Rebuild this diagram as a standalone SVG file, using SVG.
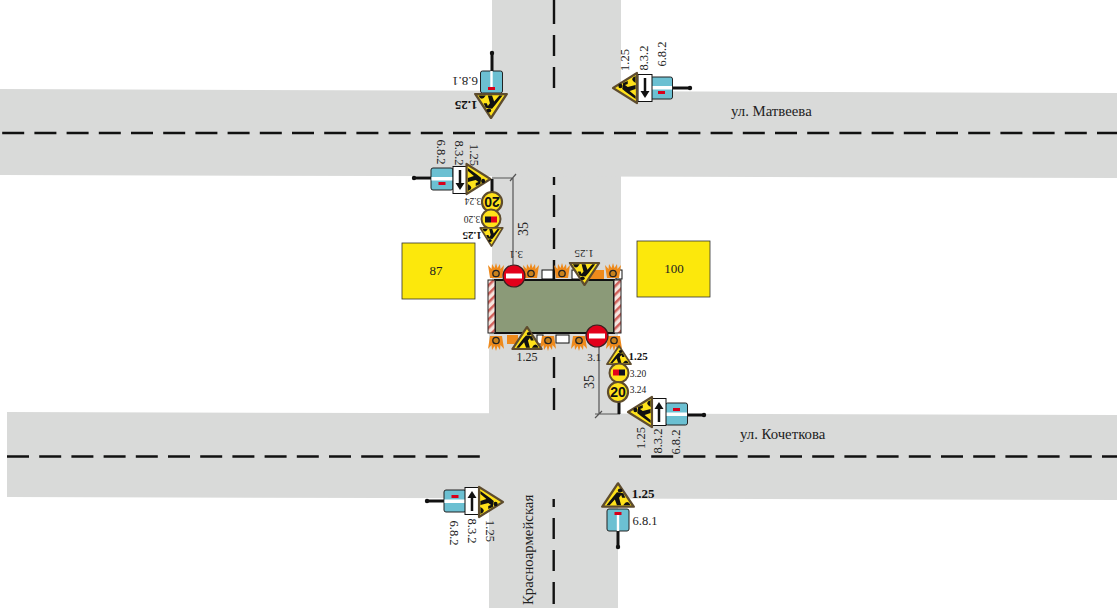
<svg xmlns="http://www.w3.org/2000/svg" width="1117" height="608" viewBox="0 0 1117 608">
<style>
text{font-family:"Liberation Serif","Times New Roman",serif;fill:#222}
.t{font-size:12.500px;text-anchor:middle}
.b{font-size:13px;font-weight:bold;text-anchor:middle;fill:#111}
.s{font-size:9.500px;text-anchor:middle}
.n{font-size:14.800px}
.road{fill:#d9dad9}
.dash{stroke:#111;stroke-width:2.400;fill:none;stroke-dasharray:22 10.200}
.seg{stroke:#111;stroke-width:2.400;fill:none}
.pole{stroke:#111;stroke-width:3;fill:none}
.dim{stroke:#555;stroke-width:1.200;fill:none}
.b2{fill:#6cc0d2;stroke:#222;stroke-width:1}
.w{fill:#fff;stroke:#111;stroke-width:1}
.or{fill:#ee8a1c}
</style>
<defs>
<g id="warn">
<path d="M0-13 L15 13 L-15 13Z" fill="#ffe21a" stroke="#5e4c2e" stroke-width="2.400" stroke-linejoin="round"/>
<circle cx="2" cy="-5" r="2.200" fill="#111"/>
<path d="M-1-3 L5-2 L7 3 L4 3 L3 0 L1 3 L3 11.500 L-1 11.500 L-3 5 L-8 11.500 L-11 11.500 L-4 1Z M5 11.500 Q9 4 12 11.500Z" fill="#111"/>
</g>
<g id="no"><circle r="11" fill="#e2001a" stroke="#3a2020" stroke-width="1.200"/><rect x="-8" y="-2.500" width="16" height="5" fill="#fff"/></g>
<g id="lamp">
<path d="M-8-7 L-4.500-3 L-4-8 L-1.500-4 L0-9 L1.500-4 L4-8 L4.500-3 L8-7 L6 6 L-6 6Z" fill="#ee8a1c"/>
<circle cy="1.500" r="3.200" fill="#c9821c" stroke="#222" stroke-width="1.300"/>
</g>
<g id="c20"><circle r="10" fill="#ffe21a" stroke="#5e4c2e" stroke-width="2.200"/><text y="5" text-anchor="middle" style="font-family:'Liberation Sans',sans-serif;font-size:14px;font-weight:bold;fill:#111">20</text></g>
<g id="c320"><circle r="9.500" fill="#ffe21a" stroke="#5e4c2e" stroke-width="2"/><rect x="-6" y="-3.500" width="6" height="6" fill="#e2001a"/><rect x="0" y="-3.500" width="6" height="6" fill="#112"/></g>
<g id="b682"><rect x="-11" y="-11" width="22" height="22" rx="2" class="b2"/><rect x="-10.500" y="-1.500" width="21" height="3.500" fill="#fff"/><rect x="-3.500" y="-6" width="7" height="3" fill="#d8001a"/></g>
<g id="b681"><rect x="-11" y="-11" width="22" height="22" rx="2" class="b2"/><rect x="-1.200" y="-7" width="2.400" height="18" fill="#fff"/><rect x="-3.500" y="-8" width="7" height="3" fill="#d8001a"/></g>
<g id="arrow"><rect x="-7" y="-13.500" width="14" height="27" class="w"/><path d="M0 10 V-5" stroke="#111" stroke-width="2.500"/><path d="M-4.500-3 L0-10 L4.500-3Z" fill="#111"/></g>
<pattern id="hatch" width="6" height="6" patternUnits="userSpaceOnUse" patternTransform="rotate(45)"><rect width="6" height="6" fill="#f6e6e0"/><rect width="2.500" height="6" fill="#d0605a"/></pattern>
</defs>

<g id="roads">
<rect class="road" x="492" y="0" width="129" height="300"/>
<rect class="road" x="489" y="300" width="129" height="308"/>
<path class="road" d="M0 89 L1117 93 V178 L0 175Z"/>
<path class="road" d="M7 412 L1117 415 V500 L7 497Z"/>
</g>

<g id="connectors">
<path class="dash" d="M-30 133 H1117"/>
<path class="dash" d="M619 456.500 H1117"/>
<path class="dash" d="M7 456.500 H480"/>
<path class="seg" d="M554 0 V24 M554 35 V56 M554 67 V88 M554 177 V185 M554 195 V217 M554 228 V249 M554 260 V279 M554 357 V378 M554 388 V410 M553.700 499 V507 M553.700 518 V539 M553.700 550 V571 M553.700 582 V604"/>
<path class="dim" d="M492 178 H513 M510 181 L516 174 M513 178 V265"/>
<path class="dim" d="M599 346 V414 M595 414 H620 M595 418 L602 411"/>
</g>

<g id="work-zone">
<rect x="495" y="280" width="119" height="53" fill="#8b9a78" stroke="#111" stroke-width="2"/>
<rect x="488" y="280" width="7" height="53" fill="url(#hatch)" stroke="#222" stroke-width="1"/>
<rect x="614" y="280" width="7" height="53" fill="url(#hatch)" stroke="#222" stroke-width="1"/>
<rect x="542" y="270" width="11" height="9" class="w" stroke-width=".6"/>
<rect x="572" y="270" width="18" height="9" class="w"/>
<rect x="590" y="270" width="14" height="9" class="or"/>
<rect x="616" y="270" width="6" height="9" class="w"/>
<rect x="507" y="335" width="11" height="9" class="or"/>
<rect x="537" y="335" width="6" height="9" class="w"/>
<rect x="556" y="335" width="13" height="8" class="w"/>
<use href="#lamp" transform="translate(496 272)"/>
<use href="#lamp" transform="translate(531 272)"/>
<use href="#lamp" transform="translate(562 272)"/>
<use href="#lamp" transform="translate(613 272)"/>
<use href="#lamp" transform="translate(496 342) scale(1 -1)"/>
<use href="#lamp" transform="translate(548 342) scale(1 -1)"/>
<use href="#lamp" transform="translate(579 342) scale(1 -1)"/>
<use href="#lamp" transform="translate(614 342) scale(1 -1)"/>
<use href="#no" x="514" y="276"/>
<use href="#no" x="597" y="336"/>
<use href="#warn" transform="translate(584.500 274) rotate(180) scale(.97 .85)"/>
<use href="#warn" transform="translate(527 338) scale(.97 .85)"/>
<text class="s" transform="translate(516 251) rotate(180)" style="font-size:11px">3.1</text>
<text class="s" transform="translate(584 250) rotate(180)" style="font-size:11px">1.25</text>
<text class="s" x="527" y="361" style="font-size:12px">1.25</text>
<text class="s" x="594" y="361" style="font-size:11px">3.1</text>
</g>

<g id="block-87"><rect x="402" y="243" width="73" height="56" fill="#fce80c" stroke="#333" stroke-width=".8"/><text class="t" x="436" y="275" style="font-size:13px">87</text></g>
<g id="block-100"><rect x="637" y="241" width="73" height="56" fill="#fce80c" stroke="#333" stroke-width=".8"/><text class="t" x="674" y="273" style="font-size:13px">100</text></g>

<g id="sign-top-left">
<path class="pole" d="M492 53 V72"/><circle cx="492" cy="53" r="2.200" fill="#111"/>
<use href="#b681" transform="translate(491.500 82) rotate(180)"/>
<use href="#warn" transform="translate(491 106) rotate(180) scale(1.050 .92)"/>
<text class="t" transform="translate(465 77) rotate(180)" style="font-size:13px">6.8.1</text>
<text class="b" transform="translate(466 101) rotate(180)">1.25</text>
</g>

<g id="sign-top-right">
<path class="pole" d="M672 88 H690"/><circle cx="690" cy="88" r="2.200" fill="#111"/>
<use href="#b682" transform="translate(661.500 88) rotate(180)"/>
<use href="#arrow" transform="translate(645 88) rotate(180)"/>
<use href="#warn" transform="translate(625 88) rotate(-90) scale(1 .92)"/>
<text class="t" transform="translate(629 60) rotate(-90)">1.25</text>
<text class="t" transform="translate(648 58) rotate(-90)">8.3.2</text>
<text class="t" transform="translate(666 54) rotate(-90)">6.8.2</text>
</g>

<g id="sign-left">
<path class="pole" d="M414 178 H431"/><circle cx="414" cy="178" r="2.200" fill="#111"/>
<use href="#b682" transform="translate(442 179) rotate(180)"/>
<use href="#arrow" transform="translate(460 180) rotate(180)"/>
<use href="#warn" transform="translate(478.500 179) rotate(90) scale(1 .92)"/>
<text class="t" transform="translate(437 152) rotate(90)">6.8.2</text>
<text class="t" transform="translate(455 153) rotate(90)">8.3.2</text>
<text class="t" transform="translate(470 155) rotate(90)">1.25</text>
</g>

<g id="stack-upper">
<path class="pole" d="M492 179 V192"/>
<use href="#c20" transform="translate(492 202) rotate(180)"/>
<use href="#c320" transform="translate(491 219) rotate(180)"/>
<use href="#warn" transform="translate(491.500 237) rotate(180) scale(.75 .7)"/>
<text class="s" transform="translate(473 198) rotate(180)">3.24</text>
<text class="s" transform="translate(472 216) rotate(180)">3.20</text>
<text class="b" transform="translate(472 232) rotate(180)" style="font-size:11px">1.25</text>
</g>

<g id="stack-lower">
<path class="pole" d="M619 400 V414"/>
<use href="#warn" transform="translate(619 355) scale(.8 .7)"/>
<use href="#c320" x="619" y="373"/>
<use href="#c20" x="618" y="392"/>
<text class="b" x="638" y="360" style="font-size:11px">1.25</text>
<text class="s" x="638" y="377">3.20</text>
<text class="s" x="638" y="393">3.24</text>
</g>

<g id="sign-lower-right">
<path class="pole" d="M687 415 H704"/><circle cx="704" cy="415" r="2.200" fill="#111"/>
<use href="#b682" x="676.500" y="414"/>
<use href="#arrow" x="659" y="412"/>
<use href="#warn" transform="translate(640 412) rotate(-90) scale(1 .92)"/>
<text class="t" transform="translate(645 438) rotate(-90)">1.25</text>
<text class="t" transform="translate(662 441) rotate(-90)">8.3.2</text>
<text class="t" transform="translate(680 442) rotate(-90)">6.8.2</text>
</g>

<g id="sign-bottom-left">
<path class="pole" d="M427 501 H444"/><circle cx="427" cy="501" r="2.200" fill="#111"/>
<use href="#b682" x="455" y="501"/>
<use href="#arrow" x="472" y="501"/>
<use href="#warn" transform="translate(491 502) rotate(90) scale(1 .92)"/>
<text class="t" transform="translate(450 533) rotate(90)">6.8.2</text>
<text class="t" transform="translate(468 531) rotate(90)">8.3.2</text>
<text class="t" transform="translate(486 531) rotate(90)">1.25</text>
</g>

<g id="sign-bottom">
<path class="pole" d="M618 530 V547"/><circle cx="618" cy="547" r="2.200" fill="#111"/>
<use href="#warn" transform="translate(618 495) scale(1.050 .9)"/>
<use href="#b681" x="618" y="520"/>
<text class="b" x="643" y="498">1.25</text>
<text class="t" x="645" y="525">6.8.1</text>
</g>

<text class="t" transform="translate(528 229) rotate(-90)" style="font-size:14px">35</text>
<text class="t" transform="translate(594 382) rotate(-90)" style="font-size:14px">35</text>
<text class="n" x="731" y="116">ул. Матвеева</text>
<text class="n" x="740" y="439">ул. Кочеткова</text>
<text class="n" transform="translate(533 605) rotate(-90)">Красноармейская</text>
</svg>
